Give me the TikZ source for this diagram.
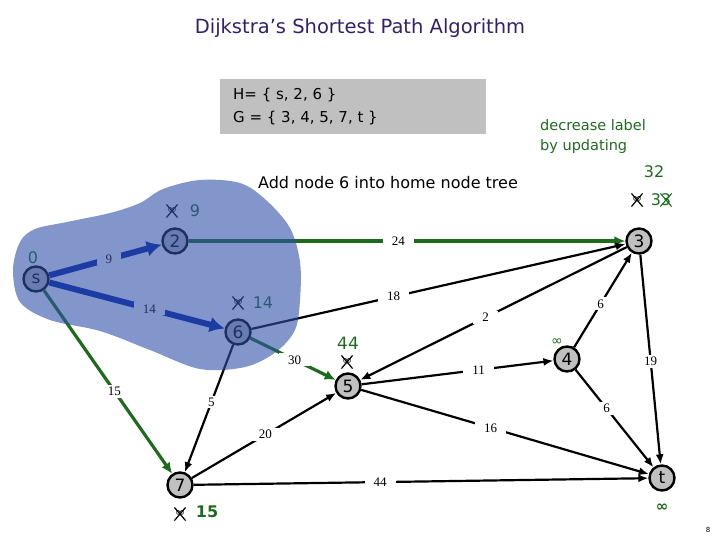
\documentclass[tikz,border=0pt]{standalone}
\usepackage{fontspec}
\setmainfont{DejaVu Sans}
\newfontfamily\numfont{Liberation Serif}
\usetikzlibrary{arrows.meta,shapes.misc}
\definecolor{nodegray}{HTML}{C0C0C0}
\definecolor{gr}{HTML}{1E6B1E}
\definecolor{blu}{HTML}{0020A0}
\definecolor{blobc}{HTML}{3050A8}
\definecolor{titlec}{HTML}{34206A}
\begin{document}
\begin{tikzpicture}[x=1pt,y=-1pt,
 vtx/.style={circle, draw, line width=2.4pt, fill=nodegray, minimum size=25pt, inner sep=0pt, font=\fontsize{17}{17}\selectfont},
 wlab/.style={fill=white, inner xsep=9pt, inner ysep=2pt, font=\numfont\fontsize{13}{13}\selectfont},
 edge/.style={line width=2.2pt, -{Latex[length=10pt,width=8pt]}},
 gedge/.style={line width=3.2pt, draw=gr, -{Latex[length=11pt,width=10pt]}},
 bedge/.style={line width=6pt, draw=blu, -{Latex[length=15pt,width=16pt]}},
 crossinf/.style={cross out, draw, line width=1.2pt, minimum width=10pt, minimum height=12pt, inner sep=0pt, font=\fontsize{12}{12}\selectfont},
 glab/.style={text=gr, font=\fontsize{16}{16}\selectfont, inner sep=0pt},
]
\useasboundingbox (0,0) rectangle (720,540);
% title
\node[text=titlec, font=\fontsize{19.5}{19.5}\selectfont] (title) at (360,28) {Dijkstra's Shortest Path Algorithm};
% gray box
\node[fill=nodegray, minimum width=266pt, minimum height=55pt, inner sep=0pt] (box) at (353,106.5) {};
\node[anchor=west, font=\fontsize{15}{15}\selectfont, inner sep=0pt] (hset) at (233,95) {H= \{ s, 2, 6 \}};
\node[anchor=west, font=\fontsize{15}{15}\selectfont, inner sep=0pt] (gset) at (233,118) {G = \{ 3, 4, 5, 7, t \}};
% comments
\node[anchor=west, text=gr, font=\fontsize{14.5}{20}\selectfont, align=left, inner sep=0pt] (dec) at (540,137) {decrease label\\by updating};
\node[font=\fontsize{16}{16}\selectfont, inner sep=0pt] (add) at (388,183) {Add node 6 into home node tree};

% vertices
\node[vtx] (s) at (36,279) {s};
\node[vtx] (n2) at (175,241) {2};
\node[vtx] (n6) at (238,332) {6};
\node[vtx] (n3) at (639,241) {3};
\node[vtx] (n4) at (567,359) {4};
\node[vtx] (n5) at (348,386) {5};
\node[vtx] (n7) at (180,485) {7};
\node[vtx] (t) at (662,478) {t};

% edges
\draw[bedge] (s) -- node[wlab, pos=0.53] {9} (n2);
\draw[bedge] (s) -- node[wlab, pos=0.57] {14} (n6);
\draw[gedge] (s) -- node[wlab, pos=0.55] {15} (n7);
\draw[gedge] (n2) -- node[wlab, pos=0.48] {24} (n3);
\draw[edge] (n6) -- node[wlab, pos=0.38] {18} (n3);
\draw[gedge] (n6) -- node[wlab, pos=0.52] {30} (n5);
\draw[edge] (n6) -- node[wlab, pos=0.45] {5} (n7);
\draw[edge] (n3) -- node[wlab, pos=0.53] {2} (n5);
\draw[edge] (n4) -- node[wlab, pos=0.46] {6} (n3);
\draw[edge] (n3) -- node[wlab, pos=0.51] {19} (t);
\draw[edge] (n5) -- node[wlab, pos=0.61] {11} (n4);
\draw[edge] (n4) -- node[wlab, pos=0.40] {6} (t);
\draw[edge] (n5) -- node[wlab, pos=0.45] {16} (t);
\draw[edge] (n7) -- node[wlab, pos=0.51] {20} (n5);
\draw[edge] (n7) -- node[wlab, pos=0.41] {44} (t);

% distance labels
\node[glab] (d0) at (33,258) {0};
\node[crossinf] (x2) at (172,211) {∞};
\node[glab] (d2) at (195,211) {9};
\node[crossinf] (x6) at (238,303) {∞};
\node[glab] (d6) at (263,303) {14};
\node[glab, font=\fontsize{17}{17}\selectfont] (d5) at (348,343) {44};
\node[crossinf] (x5) at (347,362) {∞};
\node[text=gr, font=\fontsize{14}{14}\selectfont, inner sep=0pt] (d4) at (557,342) {∞};
\node[text=gr, font=\bfseries\fontsize{15}{15}\selectfont, inner sep=0pt] (dt) at (662,508) {∞};
\node[crossinf] (x7) at (180,514) {∞};
\node[glab, font=\bfseries\fontsize{16}{16}\selectfont] (d7) at (207,512) {15};
\node[glab] (d3new) at (654,172) {32};
\node[crossinf] (x3) at (637,200) {∞};
\node[glab] (d3a) at (656,200) {3};
\node[glab, cross out, draw=gr, line width=1.1pt, minimum width=9pt, minimum height=11pt] (d3b) at (666,200) {3};

% home tree blob
\fill[blobc, opacity=0.6] plot[smooth cycle, tension=0.55] coordinates {
 (13,270) (20,242) (35,229) (67,222) (110,213) (140,203) (163,189) (200,180)
 (240,183) (266,200) (290,228) (300,262) (300,300) (295,330) (276,352)
 (245,367) (200,369) (150,350) (100,331) (50,320) (20,302)};

% page number
\node[font=\fontsize{7}{7}\selectfont] (pg) at (708,530) {8};
\end{tikzpicture}
\end{document}
